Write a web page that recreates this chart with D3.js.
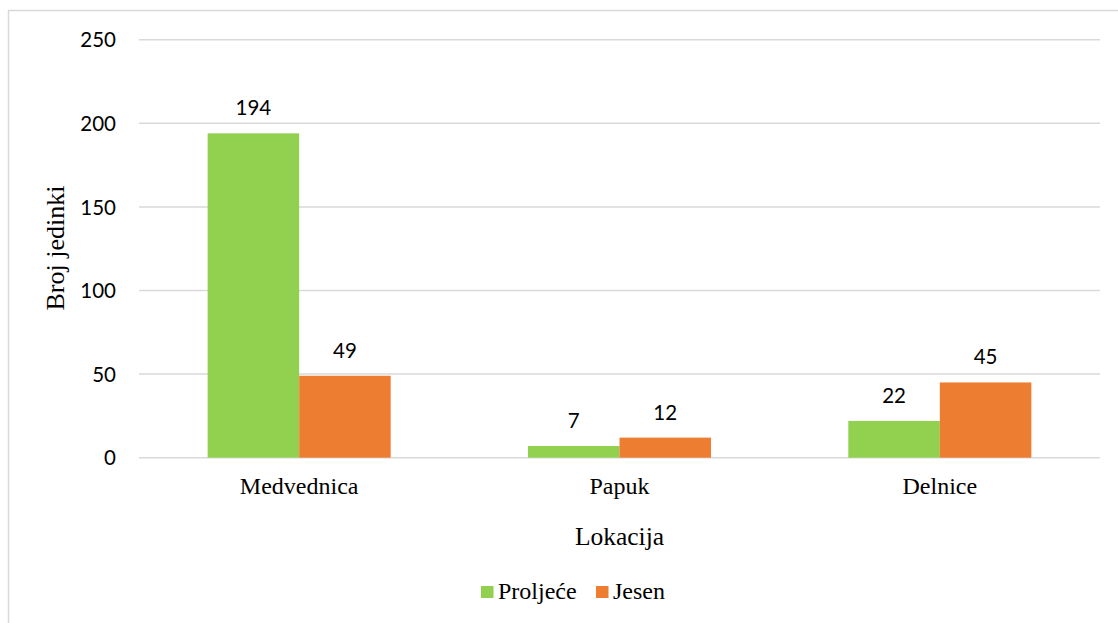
<!DOCTYPE html>
<html>
<head>
<meta charset="utf-8">
<script src="https://cdn.jsdelivr.net/npm/d3@7"></script>
<style>
  body { margin: 0; background: #fff; }
  .tick-label { font-family: Lato, "Open Sans", sans-serif; font-size: 20.5px; fill: #000; }
  .serif { font-family: "Liberation Serif", "DejaVu Serif", serif; fill: #000; }
</style>
</head>
<body>
<div id="chart"></div>
<script>
var width = 1118,
    height = 623;

// podaci
var locations = ["Medvednica", "Papuk", "Delnice"];
var seriesNames = ["Proljeće", "Jesen"];
var proljece = [194, 7, 22];
var jesen = [49, 12, 45];
var yTicks = [0, 50, 100, 150, 200, 250];
var seriesColors = ["#92d050", "#ed7d31"];

var svg = d3.select("#chart")
    .append("svg")
    .attr("width", width)
    .attr("height", height);

// okvir grafa
svg.append("rect")
    .attr("x", 8.5)
    .attr("y", 10.5)
    .attr("width", 1300)
    .attr("height", 800)
    .attr("fill", "none")
    .attr("stroke", "#d9d9d9")
    .attr("stroke-width", 1.5);

var plotLeft = 139, plotRight = 1100, plotTop = 39.7, plotBottom = 457.7;

var y = d3.scaleLinear()
    .domain([0, 250])
    .range([plotBottom, plotTop]);

var x0 = d3.scaleBand()
    .domain(locations)
    .range([plotLeft, plotRight])
    .padding(0);

var x1 = d3.scaleBand()
    .domain(seriesNames)
    .range([0, x0.bandwidth()])
    .paddingInner(0)
    .paddingOuter(0.75);

var color = d3.scaleOrdinal().domain(seriesNames).range(seriesColors);

// mreza
svg.selectAll(".grid")
    .data(yTicks)
    .enter().append("line")
    .attr("x1", plotLeft)
    .attr("x2", plotRight)
    .attr("y1", function(d) { return y(d); })
    .attr("y2", function(d) { return y(d); })
    .attr("stroke", "#d9d9d9")
    .attr("stroke-width", 1.5);

// y os
var yAxis = d3.axisLeft(y).tickValues(yTicks).tickSize(0).tickPadding(23);
var gy = svg.append("g")
    .attr("transform", "translate(" + plotLeft + ",0)")
    .call(yAxis);
gy.select(".domain").remove();
gy.selectAll("text")
    .attr("class", "tick-label")
    .attr("dy", "0.35em");

var rows = locations.map(function(loc, i) {
  return { loc: loc, values: [
    { key: seriesNames[0], value: proljece[i] },
    { key: seriesNames[1], value: jesen[i] }
  ]};
});

var groups = svg.selectAll(".group")
    .data(rows)
    .enter().append("g")
    .attr("transform", function(d) { return "translate(" + x0(d.loc) + ",0)"; });

groups.selectAll("rect")
    .data(function(d) { return d.values; })
    .enter().append("rect")
    .attr("x", function(d) { return x1(d.key); })
    .attr("width", x1.bandwidth())
    .attr("y", function(d) { return y(d.value); })
    .attr("height", function(d) { return y(0) - y(d.value); })
    .attr("fill", function(d) { return color(d.key); });

groups.selectAll(".val")
    .data(function(d) { return d.values; })
    .enter().append("text")
    .attr("class", "tick-label")
    .attr("text-anchor", "middle")
    .attr("x", function(d) { return x1(d.key) + x1.bandwidth() / 2; })
    .attr("y", function(d) { return y(d.value) - 18; })
    .text(function(d) { return d.value; });

// x os
var xAxis = d3.axisBottom(x0).tickSize(0).tickPadding(0);
var gx = svg.append("g")
    .attr("transform", "translate(0," + plotBottom + ")")
    .call(xAxis);
gx.select(".domain").remove();
gx.selectAll("text")
    .attr("class", "serif")
    .style("font-size", "24px")
    .attr("y", 36)
    .attr("dy", 0);

// naslovi osi
svg.append("text")
    .attr("class", "serif")
    .style("font-size", "25.5px")
    .attr("text-anchor", "middle")
    .attr("x", (plotLeft + plotRight) / 2)
    .attr("y", 545)
    .text("Lokacija");

svg.append("text")
    .attr("class", "serif")
    .style("font-size", "26px")
    .attr("text-anchor", "middle")
    .attr("transform", "translate(64,248) rotate(-90)")
    .text("Broj jedinki");

// legenda
var legendX = [481, 596];
var legend = svg.selectAll(".legend")
    .data(seriesNames)
    .enter().append("g")
    .attr("transform", function(d, i) { return "translate(" + legendX[i] + ",586)"; });

legend.append("rect")
    .attr("width", 12.5)
    .attr("height", 12)
    .attr("fill", function(d) { return color(d); });

legend.append("text")
    .attr("class", "serif")
    .style("font-size", "24px")
    .attr("x", 17)
    .attr("y", 13)
    .text(function(d) { return d; });
</script>
</body>
</html>
